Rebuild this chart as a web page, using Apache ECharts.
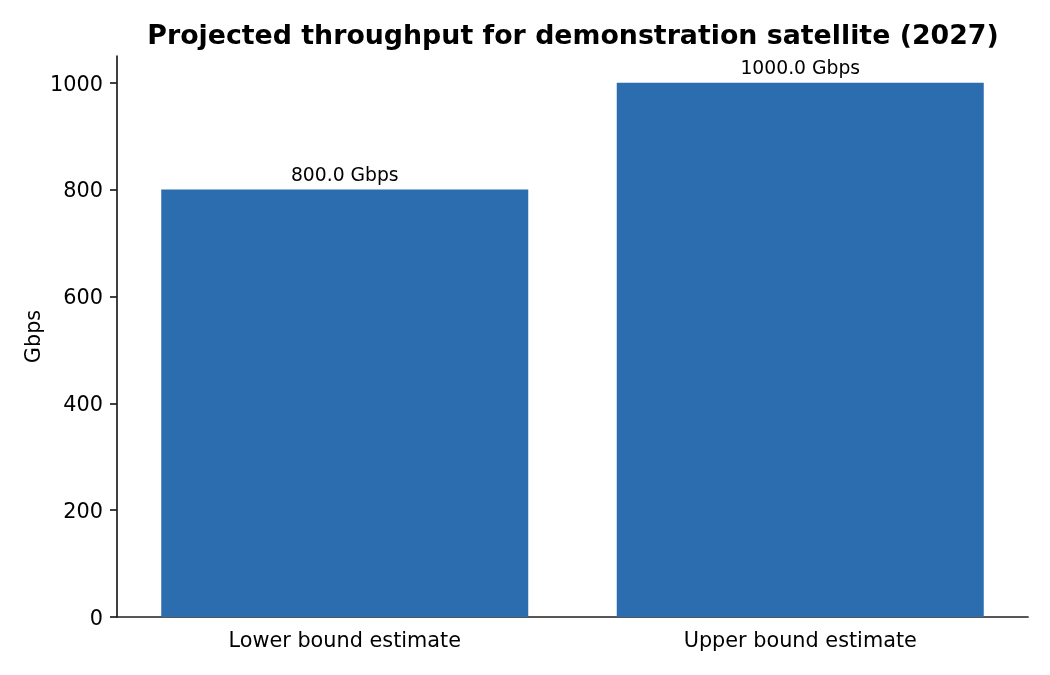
<!DOCTYPE html>
<html>
<head>
<meta charset="utf-8">
<script src="https://cdn.jsdelivr.net/npm/echarts@6/dist/echarts.min.js"></script>
<style>html,body{margin:0;padding:0;background:#fff;}#c{width:1050px;height:675px;}</style>
</head>
<body>
<div id="c"></div>
<script>
const categories = ['Lower bound estimate', 'Upper bound estimate'];
const throughputGbps = [800, 1000];
const yTicks = [0, 200, 400, 600, 800, 1000];

const chart = echarts.init(document.getElementById('c'), null, {renderer: 'canvas'});
const font = 'DejaVu Sans';
const axisColor = '#1f1f1f';
chart.setOption({
  animation: false,
  backgroundColor: '#ffffff',
  title: {
    text: 'Projected throughput for demonstration satellite (2027)',
    left: 568,
    top: 19,
    textAlign: 'center',
    textStyle: {fontFamily: font, fontWeight: 'bold', fontSize: 26.8, color: '#000'}
  },
  grid: {left: 117, right: 22, top: 56, bottom: 58, containLabel: false},
  xAxis: {
    type: 'category',
    data: categories,
    axisLine: {lineStyle: {color: axisColor, width: 1.7}},
    axisTick: {alignWithLabel: true, length: 7, lineStyle: {color: axisColor, width: 1.7}},
    axisLabel: {fontFamily: font, fontSize: 20.8, color: '#000', margin: 14}
  },
  yAxis: {
    type: 'value',
    min: 0,
    max: 1050,
    interval: 200,
    name: 'Gbps',
    nameLocation: 'middle',
    nameGap: 72,
    nameMoveOverlap: false,
    nameTextStyle: {fontFamily: font, fontSize: 20.8, color: '#000'},
    axisLine: {show: true, lineStyle: {color: axisColor, width: 1.7}},
    axisTick: {show: true, length: 7, lineStyle: {color: axisColor, width: 1.7}},
    splitLine: {show: false},
    axisLabel: {
      fontFamily: font, fontSize: 20.8, color: '#000', margin: 14,
      showMaxLabel: false,
      formatter: function (v) { return yTicks.indexOf(v) >= 0 ? '{t|' + v + '}' : ''; },
      rich: {t: {fontFamily: font, fontSize: 20.8, color: '#000', padding: [5, 0, 0, 0]}}
    }
  },
  series: [{
    type: 'bar',
    data: throughputGbps,
    barWidth: 367,
    itemStyle: {color: '#2c6db0'},
    label: {
      show: true,
      position: 'top',
      distance: 4,
      fontFamily: font,
      fontSize: 18.75,
      color: '#000',
      formatter: function (p) { return p.value.toFixed(1) + ' Gbps'; }
    }
  }]
});
</script>
</body>
</html>
